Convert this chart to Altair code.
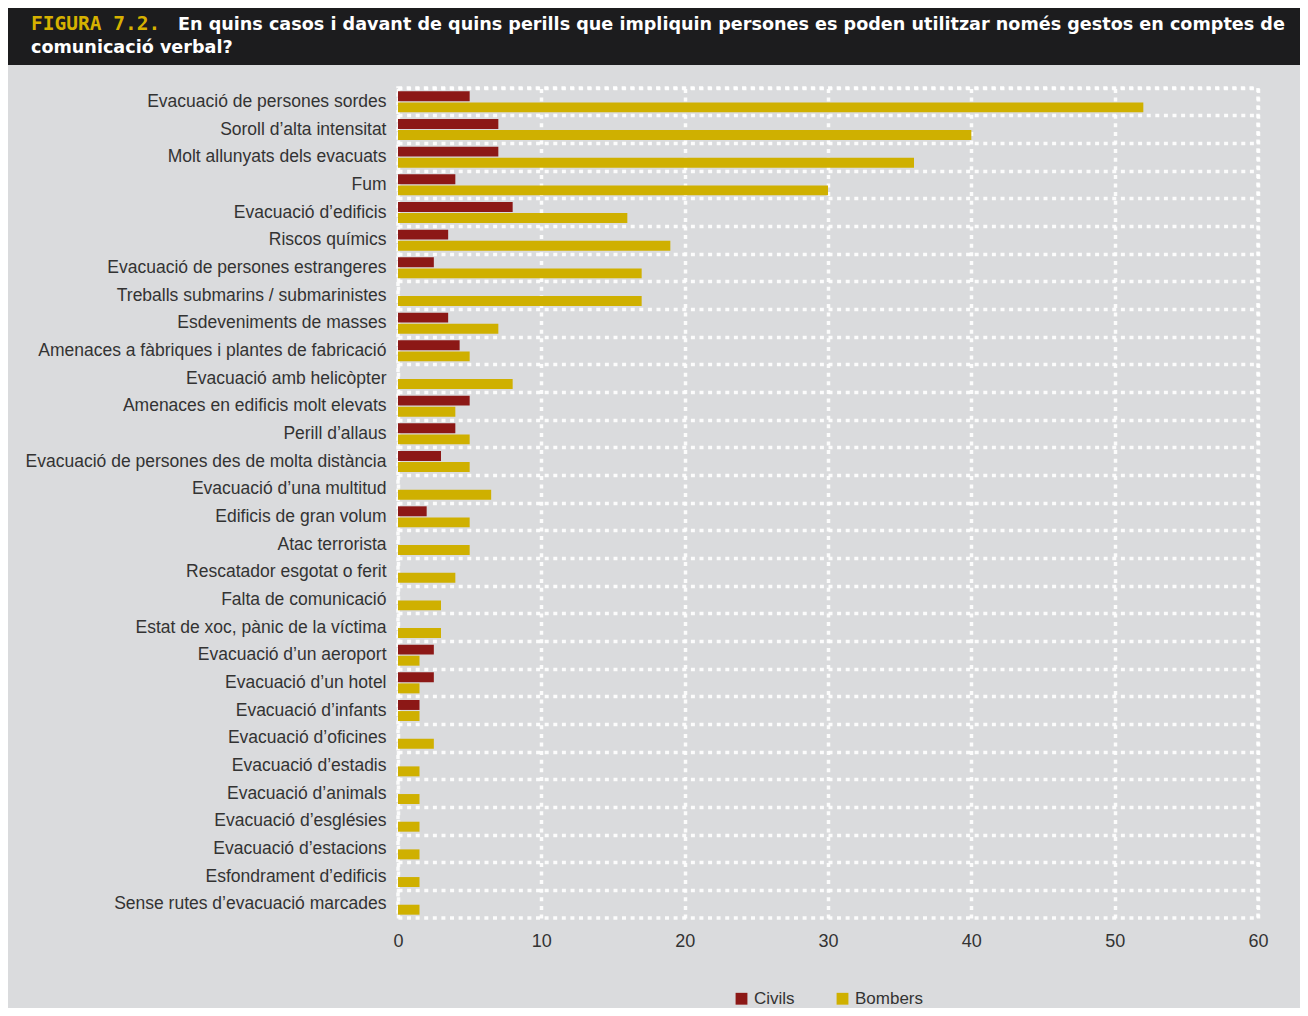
import altair as alt
import pandas as pd

categories = [
    "Evacuació de persones sordes",
    "Soroll d’alta intensitat",
    "Molt allunyats dels evacuats",
    "Fum",
    "Evacuació d’edificis",
    "Riscos químics",
    "Evacuació de persones estrangeres",
    "Treballs submarins / submarinistes",
    "Esdeveniments de masses",
    "Amenaces a fàbriques i plantes de fabricació",
    "Evacuació amb helicòpter",
    "Amenaces en edificis molt elevats",
    "Perill d’allaus",
    "Evacuació de persones des de molta distància",
    "Evacuació d’una multitud",
    "Edificis de gran volum",
    "Atac terrorista",
    "Rescatador esgotat o ferit",
    "Falta de comunicació",
    "Estat de xoc, pànic de la víctima",
    "Evacuació d’un aeroport",
    "Evacuació d’un hotel",
    "Evacuació d’infants",
    "Evacuació d’oficines",
    "Evacuació d’estadis",
    "Evacuació d’animals",
    "Evacuació d’esglésies",
    "Evacuació d’estacions",
    "Esfondrament d’edificis",
    "Sense rutes d’evacuació marcades",
]
civils = [5, 7, 7, 4, 8, 3.5, 2.5, 0, 3.5, 4.3, 0, 5, 4, 3, 0, 2, 0, 0, 0, 0,
          2.5, 2.5, 1.5, 0, 0, 0, 0, 0, 0, 0]
bombers = [52, 40, 36, 30, 16, 19, 17, 17, 7, 5, 8, 4, 5, 5, 6.5, 5, 5, 4, 3, 3,
           1.5, 1.5, 1.5, 2.5, 1.5, 1.5, 1.5, 1.5, 1.5, 1.5]
groups = ["Civils", "Bombers"]
colors = ["#8c1816", "#cfb000"]
x_ticks = [0, 10, 20, 30, 40, 50, 60]

rows = []
for c, v1, v2 in zip(categories, civils, bombers):
    rows.append({"categoria": c, "grup": "Civils", "valor": v1})
    rows.append({"categoria": c, "grup": "Bombers", "valor": v2})
df = pd.DataFrame(rows)

FONT = "Liberation Sans"
TXT = "#333333"
BG = "#dadbdd"
GRID_DASH = [4, 4.6]

bars = alt.Chart(df).mark_bar().encode(
    x=alt.X(
        "valor:Q",
        scale=alt.Scale(domain=[0, 60], nice=False),
        axis=alt.Axis(
            values=x_ticks, title=None, grid=True, gridColor="white",
            gridDash=GRID_DASH, gridWidth=3.5, gridOpacity=0.9,
            domain=False, ticks=False, labelFontSize=18, labelPadding=14,
            labelColor=TXT, labelFont=FONT, labelFlush=False,
        ),
    ),
    y=alt.Y(
        "categoria:N", sort=categories,
        scale=alt.Scale(paddingInner=0, paddingOuter=0),
        axis=alt.Axis(
            title=None, domain=False, ticks=False, grid=True, bandPosition=0,
            gridColor="white", gridDash=GRID_DASH, gridWidth=3.5, gridOpacity=0.9,
            labelPadding=12, labelFontSize=17.5, labelColor=TXT,
            labelFont=FONT, labelLimit=420,
        ),
    ),
    yOffset=alt.YOffset(
        "grup:N", sort=groups,
        scale=alt.Scale(paddingInner=0.1, paddingOuter=0.3),
    ),
    color=alt.Color(
        "grup:N",
        scale=alt.Scale(domain=groups, range=colors),
        legend=alt.Legend(
            orient="none", legendX=335, legendY=902, direction="horizontal",
            title=None, symbolType="square", symbolSize=140,
            symbolStrokeWidth=0, labelFontSize=17, labelColor=TXT,
            labelFont=FONT, columnPadding=39, labelOffset=4,
        ),
    ),
)

one = alt.Data(values=[{"a": 1}])

header = alt.Chart(one).mark_rect(color="#1c1c1e").encode(
    x=alt.value(-390), x2=alt.value(902), y=alt.value(-80), y2=alt.value(-23)
)
footer = alt.Chart(one).mark_rect(color=BG).encode(
    x=alt.value(-390), x2=alt.value(902), y=alt.value(912), y2=alt.value(920)
)
fig = alt.Chart(one).mark_text(
    text="FIGURA 7.2.", align="left", baseline="alphabetic",
    font="DejaVu Sans Mono", fontWeight="bold", fontSize=19.5, color="#d6b100",
).encode(x=alt.value(-367), y=alt.value(-58))
t1 = alt.Chart(one).mark_text(
    text="En quins casos i davant de quins perills que impliquin persones es poden utilitzar només gestos en comptes de",
    align="left", baseline="alphabetic",
    font="DejaVu Sans", fontWeight="bold", fontSize=17.6, color="white",
).encode(x=alt.value(-220), y=alt.value(-58))
t2 = alt.Chart(one).mark_text(
    text="comunicació verbal?", align="left", baseline="alphabetic",
    font="DejaVu Sans", fontWeight="bold", fontSize=17.6, color="white",
).encode(x=alt.value(-367), y=alt.value(-35))

chart = alt.layer(header, footer, fig, t1, t2, bars).properties(
    width=860, height=830, padding=0, background=BG,
).configure_view(
    stroke="white", strokeDash=GRID_DASH, strokeWidth=3.5, strokeOpacity=0.9,
)

chart.save("out.html", embed_options={"renderer": "svg", "actions": False})
